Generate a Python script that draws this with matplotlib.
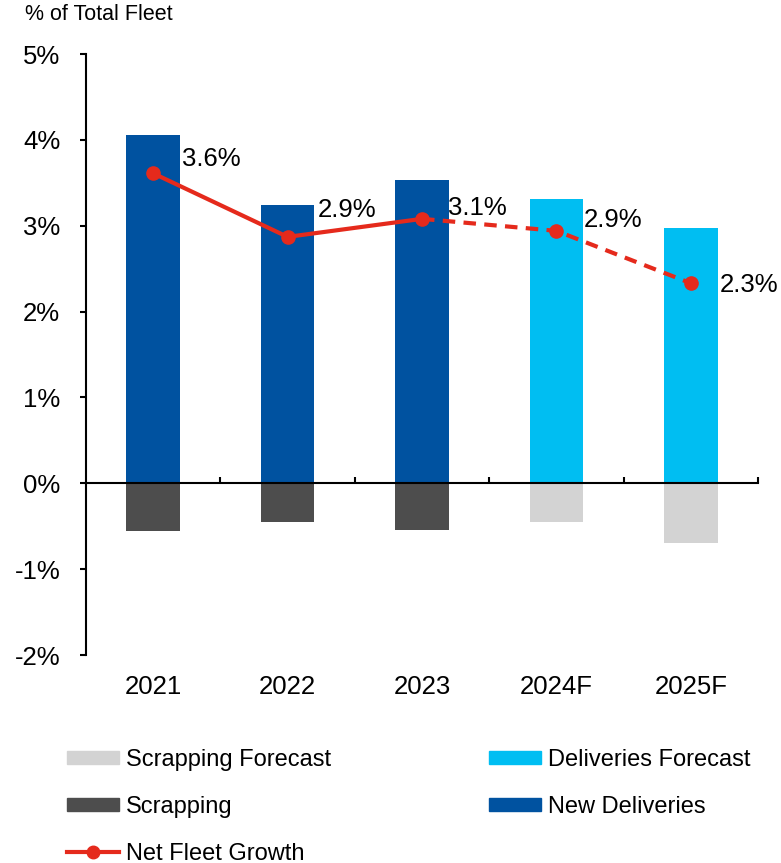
import matplotlib
matplotlib.use("Agg")
import matplotlib.pyplot as plt
from matplotlib.patches import Patch
from matplotlib.lines import Line2D

plt.rcParams['font.family'] = ['Liberation Sans', 'DejaVu Sans']

categories = ["2021", "2022", "2023", "2024F", "2025F"]
deliveries = [4.06, 3.24, 3.53, 3.31, 2.97]
scrapping = [-0.55, -0.45, -0.54, -0.45, -0.69]
is_forecast = [False, False, False, True, True]
net_growth = [3.61, 2.87, 3.08, 2.94, 2.33]
net_labels = ["3.6%", "2.9%", "3.1%", "2.9%", "2.3%"]
yticks = [-2, -1, 0, 1, 2, 3, 4, 5]

# label offsets in points (style)
label_offsets = [(21, 10), (22, 19), (19, 8), (20, 8), (21, -1)]

C_NEW = "#0052A0"
C_DFC = "#00BEF2"
C_SCR = "#4D4D4D"
C_SFC = "#D3D3D3"
C_RED = "#E52A1C"

FS = 18.5

fig = plt.figure(figsize=(7.81, 8.63), dpi=100)
ax = fig.add_axes([86/781, 1-655/863, (758-86)/781, (655-54)/863])

x = list(range(len(categories)))
pos_colors = [C_DFC if f else C_NEW for f in is_forecast]
neg_colors = [C_SFC if f else C_SCR for f in is_forecast]
ax.bar(x, deliveries, width=0.4, color=pos_colors, zorder=2)
ax.bar(x, scrapping, width=0.4, color=neg_colors, zorder=2)

# solid for actuals, dashed for forecast
last_actual = max(i for i, f in enumerate(is_forecast) if not f)
ax.plot(x[:last_actual+1], net_growth[:last_actual+1], color=C_RED, lw=3,
        zorder=4, solid_capstyle='round')
ax.plot(x[last_actual:], net_growth[last_actual:], color=C_RED, lw=3,
        ls=(0, (3, 2)), zorder=4)
ax.plot(x, net_growth, ls='none', marker='o', ms=9.5, color=C_RED, zorder=5)

for i, (v, lab) in enumerate(zip(net_growth, net_labels)):
    ax.annotate(lab, xy=(i, v), xytext=label_offsets[i], textcoords='offset points',
                ha='left', va='center', fontsize=FS, color='black', zorder=6)

ax.set_xlim(-0.5, len(categories) - 0.5)
ax.set_ylim(-2, 5)
ax.set_yticks(yticks)
ax.set_yticklabels([f"{t}%" for t in yticks], fontsize=FS)
ax.tick_params(axis='y', direction='out', length=4.5, width=1.5, pad=14)

ax.spines['top'].set_visible(False)
ax.spines['right'].set_visible(False)
ax.spines['left'].set_linewidth(1.5)
ax.spines['bottom'].set_position(('data', 0))
ax.spines['bottom'].set_linewidth(1.5)
ax.spines['bottom'].set_zorder(3)
ax.set_xticks([i + 0.5 for i in x])
ax.set_xticklabels([])
ax.tick_params(axis='x', direction='in', length=4.5, width=1.5)

for i, cat in enumerate(categories):
    ax.annotate(cat, xy=(i, 0), xycoords=('data', 'axes fraction'),
                xytext=(0, -23), textcoords='offset points',
                ha='center', va='center', fontsize=FS)

fig.text(25/781, 1-15/863, "% of Total Fleet", fontsize=15.5, ha='left', va='center')

h_sfc = Patch(color=C_SFC)
h_scr = Patch(color=C_SCR)
h_net = Line2D([], [], color=C_RED, lw=3, marker='o', ms=9)
h_dfc = Patch(color=C_DFC)
h_new = Patch(color=C_NEW)

leg_kw = dict(frameon=False, fontsize=17, handlelength=2.2, handleheight=0.5,
              handletextpad=0.3, labelspacing=1.05, borderpad=0, borderaxespad=0,
              loc='upper left')
leg1 = fig.legend([h_sfc, h_scr, h_net], ["Scrapping Forecast", "Scrapping", "Net Fleet Growth"],
                  bbox_to_anchor=(67/781, 1-749/863), **leg_kw)
leg2 = fig.legend([h_dfc, h_new], ["Deliveries Forecast", "New Deliveries"],
                  bbox_to_anchor=(489/781, 1-749/863), **leg_kw)

fig.savefig("out.png", dpi=100)
